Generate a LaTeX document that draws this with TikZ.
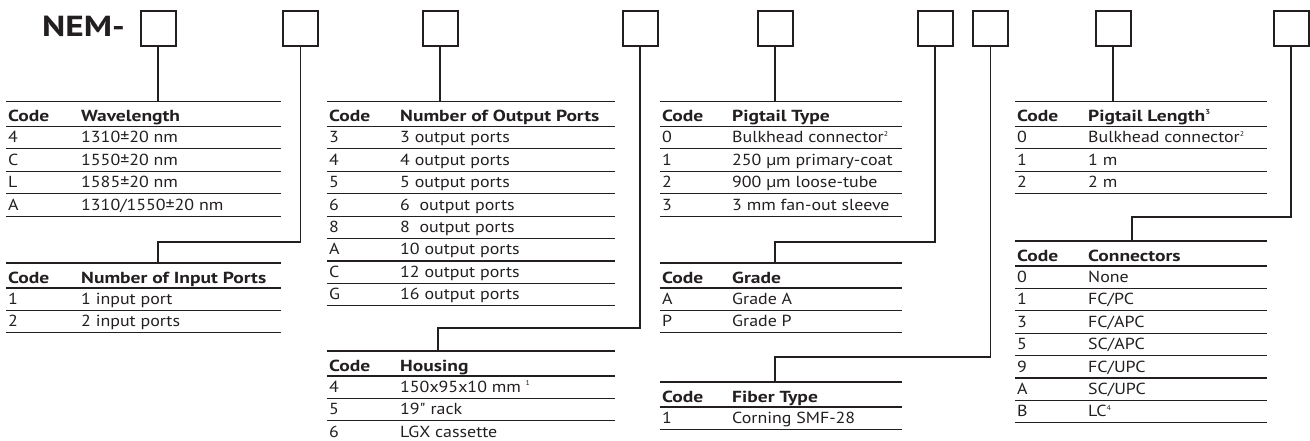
\documentclass[tikz,border=0pt]{standalone}
\usepackage{fontspec}
\setmainfont{PT Sans}[Ligatures=TeXOff,FakeStretch=1.12,BoldFeatures={FakeStretch=1.22}]
\definecolor{ink}{HTML}{231F20}
\newcommand\codetable[7]{%
  \draw[rule] (#2,#4) -- (#3,#4);
  \draw[rule] (#2,#4+25) -- (#3,#4+25);
  \node[hd] (#1-hc) at (#2+2,#4+20) {Code};
  \node[hd] (#1-hd) at (#5,#4+20) {#6};
  \foreach \c/\d [count=\i] in {#7} {
    \pgfmathsetmacro\yb{#4+25+22.4*\i}
    \draw[rule] (#2,\yb) -- (#3,\yb);
    \node[tx] (#1-c\i) at (#2+2,\yb-6) {\c};
    \node[tx] (#1-d\i) at (#5,\yb-6) {\d};
  }
}
\newcommand\fnsup[1]{\raisebox{0.42em}{\fontsize{7}{7}\selectfont #1}}
\begin{document}
\begin{tikzpicture}[x=1pt,y=-1pt,
  box/.style={draw=ink,line width=2pt,minimum size=35pt,inner sep=0pt,outer sep=0pt},
  rule/.style={draw=ink,line width=1.2pt},
  stem/.style={draw=ink,line width=1.2pt},
  tx/.style={anchor=base west,inner sep=0pt,text=ink,font=\fontsize{16}{18}\selectfont},
  hd/.style={anchor=base west,inner sep=0pt,text=ink,font=\fontsize{16}{18}\selectfont\bfseries}]
\useasboundingbox (0,0) rectangle (1310,441);
% title
\node[anchor=base west,inner sep=0pt,text=ink,font=\fontsize{29}{30}\selectfont\bfseries] (nem) at (42,37) {NEM-};
% boxes
\node[box] (b1) at (158,29) {};
\node[box] (b2) at (300.5,29) {};
\node[box] (b3) at (440,29) {};
\node[box] (b4) at (640,29) {};
\node[box] (b5) at (775,29) {};
\node[box] (b6) at (935,29) {};
\node[box] (b7) at (990.5,29) {};
\node[box] (b8) at (1113,29) {};
\node[box] (b9) at (1291,29) {};
% tables
\codetable{tw}{6}{281}{101.5}{81}{Wavelength}{4/1310±20 nm,C/1550±20 nm,L/1585±20 nm,A/{1310/1550±20 nm}}
\codetable{ti}{6}{281}{263}{81}{Number of Input Ports}{1/1 input port,2/2 input ports}
\codetable{to}{327}{615}{101.5}{400}{Number of Output Ports}{3/3 output ports,4/4 output ports,5/5 output ports,6/6\ \ output ports,8/8\ \ output ports,A/10 output ports,C/12 output ports,G/16 output ports}
\codetable{th}{327}{615}{351}{400}{Housing}{4/150x95x10 mm \fnsup{1},5/19" rack,6/LGX cassette}
\codetable{tp}{660}{902}{101.5}{732}{Pigtail Type}{0/Bulkhead connector\fnsup{2},1/250 µm primary-coat,2/900 µm loose-tube,3/3 mm fan-out sleeve}
\codetable{tg}{660}{902}{263}{732}{Grade}{A/Grade A,P/Grade P}
\codetable{tf}{660}{902}{382}{732}{Fiber Type}{1/Corning SMF-28}
\codetable{tl}{1015}{1267}{101.5}{1088}{Pigtail Length\fnsup{3}}{0/Bulkhead connector\fnsup{2},1/1 m,2/2 m}
\codetable{tc}{1015}{1267}{241}{1088}{Connectors}{0/None,1/{FC/PC},3/{FC/APC},5/{SC/APC},9/{FC/UPC},A/{SC/UPC},B/LC\fnsup{4}}
% connector points
\coordinate (p1) at (158,101.5);
\coordinate (p2) at (158,263);   \coordinate (j2) at (158,242);
\coordinate (p3) at (440,101.5);
\coordinate (p4) at (438,351);   \coordinate (j4) at (438,328);
\coordinate (p5) at (775,101.5);
\coordinate (p6) at (775,263);   \coordinate (j6) at (775,242);
\coordinate (p7) at (775,382);   \coordinate (j7) at (775,357);
\coordinate (p8) at (1113,101.5);
\coordinate (p9) at (1132,241);  \coordinate (j9) at (1132,217);
\draw[stem] (b1.south) -- (p1);
\draw[stem] (b2.south) |- (j2) -- (p2);
\draw[stem] (b3.south) -- (p3);
\draw[stem] (b4.south) |- (j4) -- (p4);
\draw[stem] (b5.south) -- (p5);
\draw[stem] (b6.south) |- (j6) -- (p6);
\draw[stem] (b7.south) |- (j7) -- (p7);
\draw[stem] (b8.south) -- (p8);
\draw[stem] (b9.south) |- (j9) -- (p9);
\end{tikzpicture}
\end{document}
